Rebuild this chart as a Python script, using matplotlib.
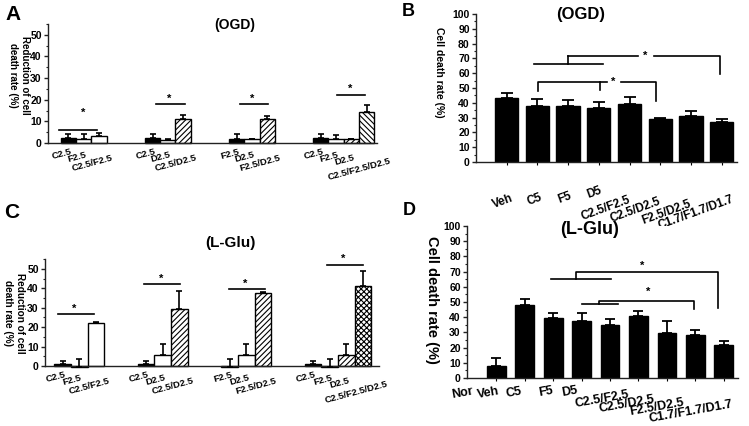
import matplotlib
matplotlib.use("Agg")
import matplotlib.pyplot as plt
import matplotlib.transforms as mtransforms
from matplotlib.ticker import MultipleLocator
import numpy as np

plt.rcParams['font.family'] = ['Liberation Sans', 'DejaVu Sans']
plt.rcParams['font.weight'] = 'bold'
plt.rcParams['hatch.linewidth'] = 0.8

# ---- data ----
# A: OGD, reduction of cell death rate (%)
a_groups = [["C2.5", "F2.5", "C2.5/F2.5"],
            ["C2.5", "D2.5", "C2.5/D2.5"],
            ["F2.5", "D2.5", "F2.5/D2.5"],
            ["C2.5", "F2.5", "D2.5", "C2.5/F2.5/D2.5"]]
a_vals = [[2.3, 1.7, 3.2], [2.3, 1.5, 11.0], [1.8, 1.7, 11.0], [2.3, 1.7, 1.7, 14.5]]
a_errs = [[2.0, 2.3, 1.5], [2.0, 0.4, 1.8], [2.2, 0.3, 1.4], [2.0, 2.2, 0.3, 3.2]]

# C: L-Glu, reduction of cell death rate (%)
c_groups = [["C2.5", "F2.5", "C2.5/F2.5"],
            ["C2.5", "D2.5", "C2.5/D2.5"],
            ["F2.5", "D2.5", "F2.5/D2.5"],
            ["C2.5", "F2.5", "D2.5", "C2.5/F2.5/D2.5"]]
c_vals = [[1.0, -0.5, 22.0], [1.0, 5.5, 29.2], [-0.5, 5.5, 37.7], [1.0, -0.5, 5.5, 41.2]]
c_errs = [[1.7, 4.3, 0.8], [1.7, 5.7, 9.7], [4.3, 5.7, 0.5], [1.7, 4.3, 5.7, 8.0]]

# B: OGD, cell death rate (%)
b_labels = ["Veh", "C5", "F5", "D5", "C2.5/F2.5", "C2.5/D2.5", "F2.5/D2.5", "C1.7/F1.7/D1.7"]
b_vals = [43.5, 37.5, 38.0, 36.2, 39.5, 29.0, 31.3, 27.0]
b_errs = [3.3, 5.0, 4.2, 4.5, 4.2, 0.7, 3.0, 2.3]

# D: L-Glu, cell death rate (%)
d_labels = ["Nor", "Veh", "C5", "F5", "D5", "C2.5/F2.5", "C2.5/D2.5", "F2.5/D2.5", "C1.7/F1.7/D1.7"]
d_vals = [8.0, 48.0, 39.5, 37.5, 34.7, 40.5, 29.5, 28.0, 21.5]
d_errs = [5.0, 4.0, 3.3, 5.0, 3.8, 3.7, 8.0, 3.5, 3.0]

# significance marks: (x0, x1, y, star_x, star_y)
a_sig = [(-0.6, 1.9, 6.0, 1.0, 14.0), (5.73, 7.61, 17.8, 6.58, 20.5),
         (11.2, 13.05, 18.0, 12.0, 20.5), (17.55, 19.38, 22.0, 18.4, 25.0)]
c_sig = [(-0.27, 1.89, 27.0, 0.71, 29.5), (4.88, 7.04, 42.4, 5.88, 45.0),
         (9.97, 12.1, 39.8, 10.93, 42.5), (15.84, 17.98, 52.2, 16.8, 55.0)]
b_brackets = [([0.9, 3.15], [66.2, 66.2]), ([2, 2], [66.2, 71.8]),
              ([2, 4.26], [71.8, 71.8]), ([4.81, 6.95, 6.95], [71.8, 71.8, 59.3]),
              ([1.03, 1.03, 3.26], [48, 54.3, 54.3]), ([3.04, 3.04], [48.6, 54.3]),
              ([3.71, 4.85, 4.85], [54.3, 54.3, 41.2])]
b_stars = [(4.52, 71.8), (3.48, 54.3)]
d_brackets = [([1.92, 4.03], [65.1, 65.1]), ([2.81, 2.81, 7.8, 7.8], [65.1, 69.5, 69.5, 46.0]),
              ([3.0, 4.27], [48.7, 48.7]), ([3.62, 3.62, 6.97, 6.97], [48.7, 50.9, 50.9, 45.4])]
d_stars = [(5.14, 73.5), (5.33, 56.5)]

W, H = 749, 426
fig = plt.figure(figsize=(W / 100, H / 100), dpi=100)


def px_axes(left, top, right, bottom):
    return fig.add_axes([left / W, 1 - bottom / H, (right - left) / W, (bottom - top) / H])


def style_axes(ax, ymax, major, fs):
    ax.spines[['top', 'right']].set_visible(False)
    for s in ('left', 'bottom'):
        ax.spines[s].set_linewidth(1.0)
        ax.spines[s].set_color('#222222')
    ax.spines['bottom'].set_position(('data', 0))
    ax.spines['left'].set_bounds(0, ymax)
    ax.yaxis.set_major_locator(MultipleLocator(major))
    ax.yaxis.set_minor_locator(MultipleLocator(major / 2))
    ax.tick_params(axis='y', which='major', length=3, width=1, labelsize=fs, pad=1.5, color='#222222')
    ax.tick_params(axis='y', which='minor', length=1.5, width=0.8, color='#222222')


def shift_labels(ax, dxs, dys):
    for lab, dx, dy in zip(ax.get_xticklabels(), dxs, dys):
        off = mtransforms.ScaledTranslation(dx / 100, -dy / 100, fig.dpi_scale_trans)
        lab.set_transform(lab.get_transform() + off)


def grouped(ax, groups, vals, errs, step, last_hatch, cap):
    ticks, labels, dys = [], [], []
    for g, (labs, v, e) in enumerate(zip(groups, vals, errs)):
        x = g * step + np.arange(len(v))
        n = len(v)
        for i in range(n):
            if i == 0:
                fc, ht = 'black', None
            elif i == 1:
                fc, ht = 'white', None
            elif i == n - 1:
                fc, ht = 'white', last_hatch[g]
            else:
                fc, ht = 'white', '//////'
            ax.bar(x[i], v[i], width=1.0, color=fc, edgecolor='black', hatch=ht,
                   linewidth=1.0, zorder=2, clip_on=False)
        ax.errorbar(x, v, yerr=[np.zeros(n), e], fmt='none', ecolor='black',
                    elinewidth=1.2, capsize=cap, capthick=1.2, zorder=3, clip_on=False)
        ticks += list(x)
        labels += labs
        dys += [3 * i for i in range(n)]
    ax.tick_params(axis='x', length=0, pad=3)
    ax.set_xticks(ticks)
    ax.set_xticklabels(labels, rotation=15, ha='center', va='top', fontsize=6.8)
    shift_labels(ax, [-7] * len(ticks), dys)


def sig_simple(ax, sig):
    for x0, x1, y, sx, sy in sig:
        ax.plot([x0, x1], [y, y], color='black', lw=1.2, clip_on=False, zorder=4)
        ax.text(sx, sy, '*', ha='center', va='center', fontsize=8, clip_on=False)


def simple_bars(ax, vals, errs, width, cap):
    x = np.arange(len(vals))
    ax.bar(x, vals, width=width, color='black', edgecolor='black', zorder=2)
    ax.errorbar(x, vals, yerr=[np.zeros(len(errs)), errs], fmt='none', ecolor='black',
                elinewidth=1.3, capsize=cap, capthick=1.3, zorder=1)
    ax.set_xticks(x)


# ---- panel A ----
axA = px_axes(48, 24, 377, 143)
axA.set_xlim(-1.33, 20.17)
axA.set_ylim(0, 55)
style_axes(axA, 55, 10, 7.5)
grouped(axA, a_groups, a_vals, a_errs, 5.5, [None, '//////', '//////', '\\\\\\\\\\\\'], 2.5)
sig_simple(axA, a_sig)

# ---- panel C ----
axC = px_axes(45, 259.3, 379, 368.9)
axC.set_xlim(-1.05, 18.95)
axC.set_ylim(-1.5, 55)
style_axes(axC, 55, 10, 7.5)
grouped(axC, c_groups, c_vals, c_errs, 5, [None, '//////', '//////', 'xxxxxx'], 2.5)
sig_simple(axC, c_sig)

# ---- panel B ----
axB = px_axes(476, 14, 737, 162)
axB.set_xlim(-1, 7.5)
axB.set_ylim(0, 100)
style_axes(axB, 100, 10, 7.5)
simple_bars(axB, b_vals, b_errs, 0.76, 4.3)
axB.tick_params(axis='x', length=2, pad=18)
axB.set_xticklabels(b_labels, rotation=20, ha='right', va='top', rotation_mode='anchor', fontsize=8.5)
shift_labels(axB, [4, 2, 1, 0, -2, -2, -2, 10], [3, 2, 0, -5, 4, 6, 8, 4])
for xs, ys in b_brackets:
    axB.plot(xs, ys, color='black', lw=1.2, zorder=4)
for sx, sy in b_stars:
    axB.text(sx, sy, '*', ha='center', va='center', fontsize=8,
             bbox=dict(facecolor='white', edgecolor='none', pad=0.5))

# ---- panel D ----
axD = px_axes(467, 226, 738, 378)
axD.set_xlim(-1.03, 8.5)
axD.set_ylim(0, 100)
style_axes(axD, 100, 10, 7.5)
simple_bars(axD, d_vals, d_errs, 0.66, 3.6)
axD.tick_params(axis='x', length=2, pad=3)
axD.set_xticklabels(d_labels, rotation=10, ha='right', va='top', rotation_mode='anchor', fontsize=9)
shift_labels(axD, [-24, -27, -32, -30, -34, -10, -13, -13, 8], [0, 0, 0, 0, -1, 4, 8, 12, 13])
for xs, ys in d_brackets:
    axD.plot(xs, ys, color='black', lw=1.2, zorder=4)
for sx, sy in d_stars:
    axD.text(sx, sy, '*', ha='center', va='center', fontsize=8)


# ---- texts ----
def ftext(x, y, s, **kw):
    fig.text(x / W, 1 - y / H, s, **kw)


ftext(13, 14, "A", fontsize=15, ha='center', va='center')
ftext(408, 11, "B", fontsize=13, ha='center', va='center')
ftext(12, 212, "C", fontsize=15, ha='center', va='center')
ftext(409, 211, "D", fontsize=13, ha='center', va='center')

ftext(235, 25, "(OGD)", fontsize=10, ha='center', va='center')
ftext(581, 15, "(OGD)", fontsize=12, ha='center', va='center')
ftext(230, 243, "(L-Glu)", fontsize=11, ha='center', va='center')
ftext(590, 230, "(L-Glu)", fontsize=13, ha='center', va='center')

ftext(19, 75, "Reduction of cell\ndeath rate (%)", fontsize=7, rotation=-90,
      ha='center', va='center', linespacing=1.3)
ftext(14, 313, "Reduction of cell\ndeath rate (%)", fontsize=7.2, rotation=-90,
      ha='center', va='center', linespacing=1.3)
ftext(439, 72, "Cell death rate (%)", fontsize=7.5, rotation=-90, ha='center', va='center')
ftext(432, 300, "Cell death rate (%)", fontsize=10.5, rotation=-90, ha='center', va='center')

fig.savefig("out.png", dpi=100)
